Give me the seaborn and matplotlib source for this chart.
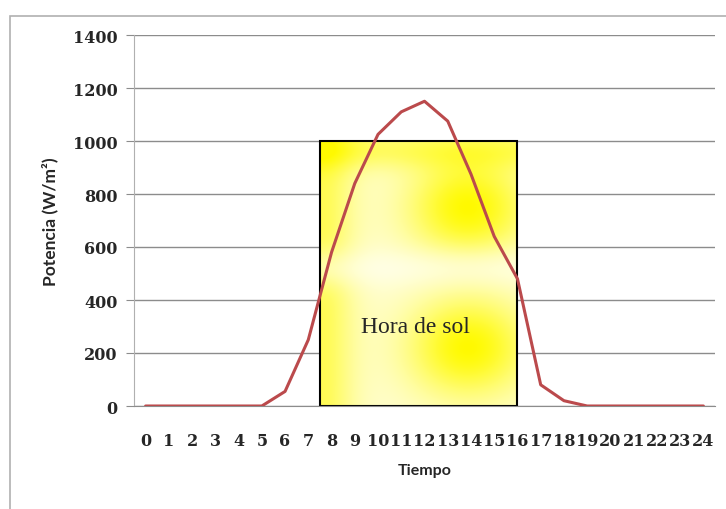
import matplotlib
matplotlib.use("Agg")
import matplotlib.pyplot as plt
import numpy as np
import pandas as pd
import seaborn as sns
from matplotlib.patches import Rectangle

hours = list(range(25))
power = [0, 0, 0, 0, 0, 0, 55, 250, 580, 840, 1025, 1110, 1150, 1075, 875,
         640, 480, 80, 20, 0, 0, 0, 0, 0, 0]
y_ticks = [0, 200, 400, 600, 800, 1000, 1200, 1400]
sun_start, sun_end, sun_top = 7.5, 16, 1000

sns.set_style("white")
df = pd.DataFrame({"Tiempo": hours, "Potencia": power})

fig = plt.figure(figsize=(7.26, 5.10), dpi=100)
# outer chart border
fig.patches.append(Rectangle((10 / 726, -0.01), 1.0, 1 - 17 / 510 + 0.01,
                             transform=fig.transFigure, fill=False,
                             edgecolor="#b0b0b0", linewidth=1.2))
ax = fig.add_axes([134 / 726, 1 - 407 / 510, (715 - 134) / 726, (407 - 36) / 510])

ax.set_xlim(-0.5, 24.5)
ax.set_ylim(0, 1400)
ax.set_yticks(y_ticks)
ax.yaxis.grid(True, color="#8c8c8c", linewidth=1)
ax.set_axisbelow(True)

# yellow "sun" box with blotchy gradient
gx = np.linspace(0, 1, 200)
gy = np.linspace(0, 1, 300)
X, Y = np.meshgrid(gx, gy)
glow = (np.exp(-((X - 0.75) ** 2 / 0.09 + (Y - 0.75) ** 2 / 0.035))
        + np.exp(-((X - 0.75) ** 2 / 0.09 + (Y - 0.22) ** 2 / 0.035))
        + 0.6 * np.exp(-((X - 0.0) ** 2 / 0.03))
        + 0.5 * np.exp(-((Y - 0.97) ** 2 / 0.006)))
glow = 0.18 + 0.82 * np.clip(glow, 0, 1)
glow *= 1 - 0.5 * np.exp(-((Y - 0.52) ** 2 / 0.006))
rgb = np.ones((300, 200, 3))
rgb[..., 2] = 1 - glow
rgb[..., 1] = 1 - 0.02 * glow
ax.imshow(rgb, extent=[sun_start, sun_end, 0, sun_top], origin="lower",
          aspect="auto", zorder=1, interpolation="bilinear")
ax.add_patch(Rectangle((sun_start, 0), sun_end - sun_start, sun_top,
                       fill=False, edgecolor="black", linewidth=1.5, zorder=2))
ax.text((sun_start + sun_end) / 2 - 0.15, 300, "Hora de sol", ha="center", va="center",
        fontsize=17, family="Liberation Serif", zorder=4)

sns.lineplot(data=df, x="Tiempo", y="Potencia", ax=ax, color="#bb4a4c",
             linewidth=2.2, zorder=3)

ax.set_xticks(hours)
ax.set_xticklabels([str(h) for h in hours], family="DejaVu Serif",
                   fontweight="bold", fontsize=11.5)
ax.set_yticklabels([str(v) for v in y_ticks], family="DejaVu Serif",
                   fontweight="bold", fontsize=11.5)
ax.tick_params(axis="x", length=0, pad=19)
ax.tick_params(axis="y", length=6, color="#8c8c8c", left=True, pad=6)
ax.set_xlabel("Tiempo", family="Lato", fontweight="bold", fontsize=11.5, labelpad=10)
ax.set_ylabel("Potencia (W/m²)", family="Lato", fontweight="bold", fontsize=12.5,
              labelpad=10)

for side in ["top", "right"]:
    ax.spines[side].set_visible(False)
ax.spines["left"].set_color("#b0b0b0")
ax.spines["bottom"].set_color("#8c8c8c")

fig.savefig("out.png", dpi=100)
